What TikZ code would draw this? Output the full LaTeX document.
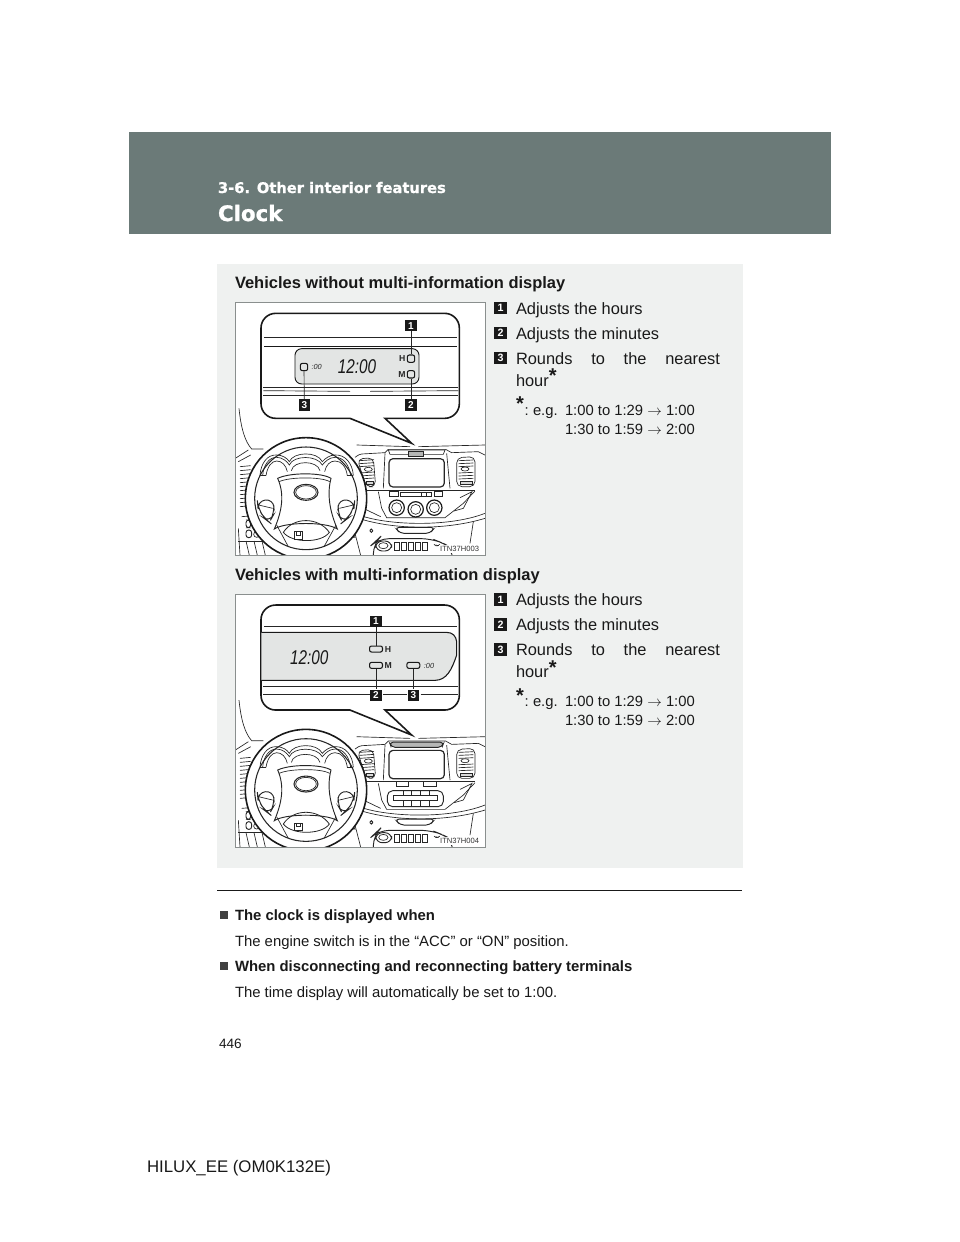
\documentclass[tikz,border=0pt]{standalone}
\usepackage{fontspec}
\setmainfont{Liberation Sans}
\newfontfamily\headfont[BoldFeatures={FakeBold=1}]{DejaVu Sans}
\definecolor{headgray}{HTML}{6B7A78}
\definecolor{panelgray}{HTML}{EFF1F0}
\definecolor{lcdgray}{HTML}{E3E5E4}
\definecolor{framegray}{HTML}{8A8F8E}
\tikzset{
  txt/.style={anchor=base west,inner sep=0pt,outer sep=0pt,text=black!90},
  body/.style={txt,font=\fontsize{12.3}{14}\selectfont},
  smalltxt/.style={txt,font=\fontsize{11.1}{12}\selectfont},
  bold/.style={txt,font=\fontsize{12.35}{14}\selectfont\bfseries},
  note/.style={txt,font=\fontsize{11.15}{12}\selectfont},
  notebold/.style={txt,font=\fontsize{11.15}{12}\selectfont\bfseries},
  badge/.style={fill=black!90,text=white,inner sep=0pt,minimum size=8.3pt,font=\fontsize{7.5}{8}\selectfont\bfseries},
  keybadge/.style={fill=black!90,text=white,inner sep=0pt,minimum size=9.6pt,font=\fontsize{8}{8}\selectfont\bfseries},
  thin line/.style={line width=.5pt,draw=black!85},
  lcdkey/.style={draw=black!90,line width=.8pt,fill=lcdgray,rounded corners=1.5pt,inner sep=0pt},
  lcdtxt/.style={inner sep=0pt,text=black!85,font=\fontsize{6.5}{7}\selectfont\bfseries},
  codetxt/.style={inner sep=1pt,fill=white,text=black!80,font=\fontsize{5.7}{6}\selectfont},
  bigclock/.style={inner sep=0pt,text=black!90,font=\fontsize{11.5}{12}\selectfont\itshape},
  smallclock/.style={inner sep=0pt,text=black!85,font=\fontsize{5.5}{6}\selectfont\itshape},
}
\newcommand{\dashcommon}{%
  % pillar and dash top
  \draw[thin line] (27,340) .. controls (33,400) and (45,440) .. (65,462) -- (100,462);
  \draw[thin line] (380,450) -- (540,455) (565,455) -- (765,450);
  % left vent and door lines
  \draw[thin line] (16,490) -- (55,465);
  \draw[thin line] (25,500) -- (62,480);
  \foreach \y in {515,527,539,551,563,575,587,599,611,623,635}{\draw[thin line] (30,\y) -- (62,\y-3);}
  % left switches
  \draw[thin line] (35,665) -- (70,662);
  \draw[thin line,rounded corners=2pt,line width=.7pt] (48,675) rectangle (62,698);
  \draw[thin line,rounded corners=2pt,line width=.7pt] (48,705) rectangle (65,728);
  \draw[thin line] (80,718) circle (9);
  \draw[thin line] (25,738) -- (120,738);
  \draw[thin line] (48,738) -- (58,781) (72,738) -- (82,781) (96,738) -- (106,781);
  \draw[thin line] (25,700) -- (30,781);
  % stack upper line
  \draw[thin line] (375,487) .. controls (385,480) and (390,477) .. (395,477) -- (465,473) -- (475,463) -- (647,463) -- (665,473) -- (745,470) -- (765,480);
  \draw[thin line] (465,475) -- (460,580) (650,475) -- (660,580);
  \draw[thin line] (375,500) -- (385,580);
  % vents
  \draw[thin line,rounded corners=4pt] (382,492) -- (430,488) -- (437,575) -- (408,575) -- cycle;
  \foreach \y in {497,506,515,534,543,552}{\draw[thin line] (388,\y) -- (432,\y-3);}
  \draw[thin line,fill=white] (415,523) ellipse (12 and 6);
  \draw[thin line,fill=black!15] (410,560) rectangle (430,568);
  \draw[thin line,rounded corners=4pt] (680,488) -- (735,485) -- (735,575) -- (680,575) -- cycle;
  \foreach \y in {497,506,515,534,543,552}{\draw[thin line] (686,\y) -- (730,\y-2);}
  \draw[thin line,fill=white] (705,522) ellipse (12 and 6);
  \draw[thin line,fill=black!15] (692,560) rectangle (726,568);
  % display
  \draw[line width=.9pt,draw=black!85,rounded corners=3pt] (477,491) rectangle (643,576);
  % console
  \draw[thin line] (400,585) -- (735,585);
  \draw[thin line] (445,590) -- (455,640) -- (470,668) -- (645,668) -- (700,625) -- (735,588);
  \draw[thin line] (690,608) -- (726,590) -- (700,640) -- (672,648);
  \draw[thin line] (375,628) -- (452,665);
  \draw[thin line] (375,655) .. controls (450,690) and (650,700) .. (765,655);
  \draw[thin line] (392,672) .. controls (500,705) and (650,705) .. (765,670);
  \draw[thin line,rounded corners=3pt,line width=.7pt] (495,697) -- (615,697) -- (600,715) -- (510,715) -- cycle;
  \draw[thin line,rounded corners=1pt,line width=.7pt] (420,702) rectangle (428,712);
  \draw[thin line] (375,715) -- (392,781);
  \draw[thin line] (730,680) -- (720,745);
  \draw[thin line] (355,710) -- (375,727) -- (345,727);
  % glovebox strip
  \draw[line width=.7pt,draw=black!85,rounded corners=8pt] (430,781) -- (430,745) -- (445,731) -- (605,731) -- (640,745) -- (668,760) -- (668,781);
  \draw[line width=.7pt,draw=black!85,rounded corners=5pt] (437,738) rectangle (485,768);
  \draw[thin line] (460,752) ellipse (14 and 9);
  \foreach \x in {493,514,535,556,577}{\draw[line width=.5pt,draw=black!85] (\x,742) rectangle (\x+15,766);}
  \draw[thin line] (612,748) arc (150:30:10);
  \draw[thin line] (617,750) arc (150:30:5);
  % steering wheel
  \draw[line width=1.2pt,draw=black!90,fill=white] (228,610) circle (182);
  \draw[line width=.8pt,draw=black!85,fill=white] (228,610) circle (154);
  % binnacle and dials
  \draw[thin line] (90,542) .. controls (92,505) and (112,478) .. (140,480) .. controls (158,480) and (172,490) .. (178,500) .. controls (190,470) and (262,468) .. (277,500) .. controls (285,490) and (300,480) .. (315,480) .. controls (345,478) and (368,505) .. (370,542);
  \draw[thin line] (98,542) .. controls (100,510) and (118,486) .. (140,487) .. controls (158,487) and (172,500) .. (178,510) .. controls (190,480) and (262,480) .. (277,510) .. controls (285,500) and (298,487) .. (315,487) .. controls (340,486) and (358,510) .. (362,542);
  \draw[thin line] (108,542) .. controls (112,515) and (125,498) .. (140,498) .. controls (155,498) and (168,510) .. (172,530);
  \draw[thin line] (184,527) .. controls (190,495) and (262,495) .. (270,527);
  \draw[thin line] (284,530) .. controls (288,510) and (300,498) .. (315,498) .. controls (335,498) and (348,515) .. (352,542);
  \draw[thin line] (90,542) -- (108,542) (352,542) -- (370,542);
  % hub
  \draw[line width=.7pt,draw=black!85,fill=white] (143,550) .. controls (180,532) and (275,532) .. (303,550) .. controls (290,600) and (300,650) .. (322,702) .. controls (290,680) and (165,680) .. (133,702) .. controls (155,650) and (165,600) .. (143,550) -- cycle;
  \draw[thin line] (147,560) .. controls (180,545) and (275,545) .. (299,560);
  \draw[line width=.8pt,draw=black!85] (228,592) ellipse (36 and 24);
  \draw[thin line] (228,592) ellipse (31 and 20);
  % spoke pads
  \draw[line width=.7pt,draw=black!85,rounded corners=6pt,fill=white] (82,618) -- (130,612) -- (133,655) -- (118,682) -- (105,672) -- (84,640) -- cycle;
  \draw[thin line] (86,630) -- (128,640);
  \draw[line width=.7pt,draw=black!85,rounded corners=6pt,fill=white] (374,618) -- (326,612) -- (323,655) -- (338,682) -- (351,672) -- (372,640) -- cycle;
  \draw[thin line] (370,630) -- (328,640);
  % lower hub
  \draw[line width=.6pt,draw=black!85] (160,712) .. controls (190,665) and (265,665) .. (298,712) .. controls (275,745) and (185,745) .. (160,712) -- cycle;
  \draw[thin line] (140,690) -- (175,755) (318,690) -- (282,755);
  \draw[line width=.7pt,draw=black!85,fill=white] (194,710) rectangle (216,732);
  \draw[thin line] (200,710) rectangle (210,720);
}
\newcommand{\calloutbox}{%
  \draw[line width=1.2pt,draw=black!90,fill=white,line join=miter]
    [rounded corners=11pt] (93,55) -- (688,55) -- (688,370)
    [sharp corners] -- (465,370) -- (545,445) -- (360,370)
    [rounded corners=11pt] -- (93,370) -- cycle;
}
\newcommand{\frameart}{\fill[white] (16,22) rectangle (765,781);}
\newcommand{\frameborder}{\draw[line width=.5pt,draw=framegray] (16,22) rectangle (765,781);}
\newcommand{\legendblock}[2]{%
  \begin{scope}[yshift=#1*-.75pt]
    \node[keybadge] (#2k1) at (500.5,308) {1};
    \node[body] (#2t1) at (516,314) {Adjusts the hours};
    \node[keybadge] (#2k2) at (500.5,333) {2};
    \node[body] (#2t2) at (516,339) {Adjusts the minutes};
    \node[keybadge] (#2k3) at (500.5,358) {3};
    \node[body,text width=153pt,align=left] (#2t3) at (516,364) {\makebox[153pt][s]{Rounds\hfill to\hfill the\hfill nearest}};
    \node[body] (#2t4) at (516,386) {hour\raisebox{2.5pt}{\fontsize{15}{15}\selectfont\bfseries *}};
    \node[body] (#2s) at (516,413) {\raisebox{2pt}{\fontsize{15}{15}\selectfont\bfseries *}};
    \node[smalltxt] (#2c) at (524.5,415) {:};
    \node[smalltxt] (#2eg) at (533,415) {e.g.};
    \node[smalltxt] (#2r1) at (565,415) {1:00 to 1:29 $\rightarrow$ 1:00};
    \node[smalltxt] (#2r2) at (565,434) {1:30 to 1:59 $\rightarrow$ 2:00};
  \end{scope}
}
\begin{document}
\begin{tikzpicture}[x=.75pt,y=-.75pt]
\useasboundingbox[fill=white] (0,0) rectangle (960,1242);
\fill[headgray] (129,132) rectangle (831,234);
\fill[panelgray] (217,264) rectangle (743,868);
\node[txt,text=white,font=\headfont\fontsize{11}{12}\selectfont\bfseries] (sect) at (218,193) {3-6. Other interior features};
\node[txt,text=white,font=\headfont\fontsize{16}{18}\selectfont\bfseries] (ttl) at (218,221) {Clock};
\node[bold] (h1) at (235,288) {Vehicles without multi-information display};
\node[bold] (h2) at (235,580) {Vehicles with multi-information display};
\legendblock{0}{a}
\legendblock{291.7}{b}

% Figure 1
\begin{scope}[shift={(230,295)},x=.25pt,y=-.25pt]
  \frameart
  \begin{scope}
    \clip (16,22) rectangle (765,781);
    \dashcommon
  \end{scope}
  \draw[line width=.7pt,draw=black!85] (478,590) rectangle (505,603);
  \draw[thin line] (512,592) rectangle (605,603);
  \draw[thin line] (575,592) -- (575,603) (590,592) -- (590,603);
  \draw[line width=.7pt,draw=black!85] (613,590) rectangle (638,603);
  \foreach \p in {(500,638),(557,643),(613,638)}{
    \draw[line width=.9pt,draw=black!90] \p circle (23);
    \draw[thin line] \p circle (15);
  }
  \draw[thin line] (475,465) -- (645,465) -- (640,478) -- (480,478) -- cycle;
  \draw[line width=.7pt,draw=black!85,fill=lcdgray!80!black] (535,470) rectangle (580,483);
  \calloutbox
  \draw[thin line] (103,127) -- (680,127);
  \draw[line width=.8pt,draw=black!90] (103,155) -- (680,155);
  \draw[line width=.7pt,draw=black!90,fill=lcdgray,rounded corners=5pt] (195,161) rectangle (567,267);
  \draw[thin line] (100,276) -- (685,276);
  \draw[thin line] (100,287) -- (360,289) (420,289) -- (685,287);
  \draw[thin line] (100,302) -- (685,302);
  \node[lcdkey,minimum size=5.5pt] (ah) at (543,191) {};
  \node[lcdkey,minimum size=5.5pt] (am) at (543,238) {};
  \node[lcdkey,minimum size=5.5pt] (ar) at (222,216) {};
  \node[lcdtxt] (ahl) at (517,191) {H};
  \node[lcdtxt] (aml) at (516,239) {M};
  \node[smallclock] (arl) at (260,217) {:00};
  \node[bigclock] (acl) at (381,215) {\scalebox{1}[1.3]{12:00}};
  \node[badge] (a1) at (543,92) {1};
  \node[badge] (a2) at (543,330) {2};
  \node[badge] (a3) at (223,330) {3};
  \draw[thin line] (a1) -- (ah);
  \draw[thin line] (am) -- (a2);
  \draw[thin line] (ar) -- (a3);
  \node[codetxt] (acode) at (689,762) {ITN37H003};
  \frameborder
\end{scope}

% Figure 2
\begin{scope}[shift={(230,586.7)},x=.25pt,y=-.25pt]
  \frameart
  \begin{scope}
    \clip (16,22) rectangle (765,781);
    \dashcommon
  \end{scope}
  \draw[line width=.7pt,draw=black!85] (498,585) rectangle (535,598);
  \draw[line width=.7pt,draw=black!85] (580,585) rectangle (618,598);
  \draw[line width=.7pt,draw=black!85,rounded corners=4pt] (472,612) rectangle (640,660);
  \draw[thin line] (490,625) rectangle (622,642);
  \foreach \x in {520,545,570,597}{\draw[thin line] (\x,612) -- (\x,625) (\x,642) -- (\x,660);}
  \draw[line width=.7pt,draw=black!85,fill=lcdgray!80!black,rounded corners=3pt] (478,466) -- (642,466) -- (636,482) -- (484,482) -- cycle;
  \calloutbox
  \draw[thin line] (103,118) -- (680,118);
  \begin{scope}
    \clip[rounded corners=11pt] (94,56) rectangle (687,369);
    \draw[line width=.8pt,draw=black!90,fill=lcdgray] (90,137) -- (650,137) .. controls (668,137) and (678,148) .. (680,165) -- (680,205) .. controls (665,250) and (650,280) .. (615,281) -- (90,281) -- cycle;
  \end{scope}
  \draw[thin line] (100,300) -- (685,300);
  \draw[thin line] (100,323) -- (420,323) (460,323) -- (532,323) (572,323) -- (685,323);
  \node[lcdkey,minimum width=9.7pt,minimum height=4.5pt] (bh) at (438,187) {};
  \node[lcdkey,minimum width=9.7pt,minimum height=4.5pt] (bm) at (438,236) {};
  \node[lcdkey,minimum width=9.7pt,minimum height=4.5pt] (br) at (550,236) {};
  \node[lcdtxt] (bhl) at (474,187) {H};
  \node[lcdtxt] (bml) at (475,236) {M};
  \node[smallclock] (brl) at (597,237) {:00};
  \node[bigclock] (bcl) at (238,214) {\scalebox{1}[1.3]{12:00}};
  \node[badge] (b1) at (438,103) {1};
  \node[badge] (b2) at (438,325) {2};
  \node[badge] (b3) at (550,325) {3};
  \draw[thin line] (b1) -- (bh);
  \draw[thin line] (bm) -- (b2);
  \draw[thin line] (br) -- (b3);
  \node[codetxt] (bcode) at (689,762) {ITN37H004};
  \frameborder
\end{scope}

% Rule and notes
\coordinate (rl) at (217,890);
\coordinate (rr) at (742,890);
\draw[line width=.6pt,black!90] (rl) -- (rr);
\fill[black!75] (219.5,911) rectangle (227.5,919);
\node[notebold] (n1) at (235,920) {The clock is displayed when};
\node[note] (n2) at (235,946) {The engine switch is in the “ACC” or “ON” position.};
\fill[black!75] (219.5,962) rectangle (227.5,970);
\node[notebold] (n3) at (235,971) {When disconnecting and reconnecting battery terminals};
\node[note] (n4) at (235,997) {The time display will automatically be set to 1:00.};
\node[txt,font=\fontsize{10.2}{12}\selectfont] (pg) at (219,1048) {446};
\node[txt,font=\fontsize{12.6}{14}\selectfont] (foot) at (147,1172) {HILUX\_EE (OM0K132E)};
\end{tikzpicture}
\end{document}
